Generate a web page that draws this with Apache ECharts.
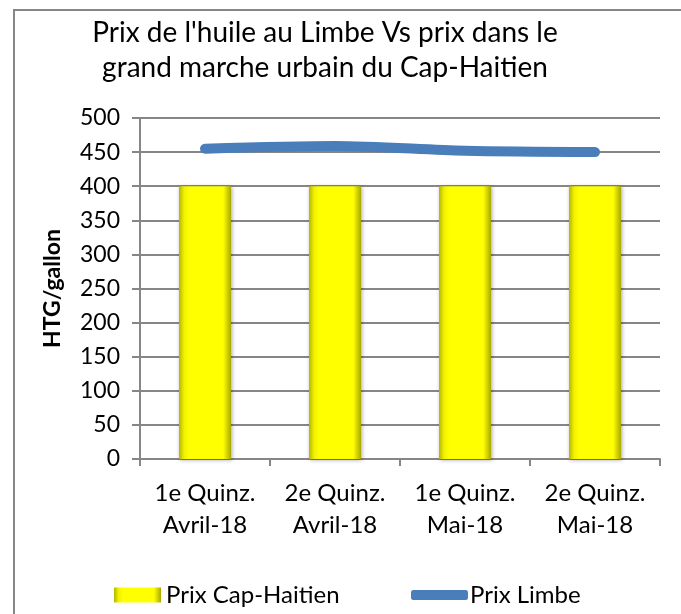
<!DOCTYPE html>
<html>
<head>
<meta charset="utf-8">
<script src="https://cdn.jsdelivr.net/npm/echarts@6/dist/echarts.min.js"></script>
<style>
html,body{margin:0;padding:0;background:#fff;}
#chart{width:681px;height:614px;}
</style>
</head>
<body>
<div id="chart"></div>
<script>
var categories = ['1e Quinz.\nAvril-18', '2e Quinz.\nAvril-18', '1e Quinz.\nMai-18', '2e Quinz.\nMai-18'];
var prixCap = [400, 400, 400, 400];
var prixLimbe = [455, 459, 452, 450];
var yTicks = [0, 50, 100, 150, 200, 250, 300, 350, 400, 450, 500];

var font = 'Lato';
var chart = echarts.init(document.getElementById('chart'));

var option = {
	backgroundColor: '#fff',
	animation: false,
	textStyle: { fontFamily: font },
	title: {
		text: "Prix de l'huile au Limbe Vs prix dans le\ngrand marche urbain du Cap-Haitien",
		left: 320,
		textAlign: 'center',
		top: 10,
		textStyle: { fontFamily: font, fontSize: 28, fontWeight: 'normal', color: '#000', lineHeight: 35 }
	},
	graphic: [{
		type: 'rect',
		shape: { x: 14, y: 10, width: 700, height: 640 },
		style: { fill: 'none', stroke: '#868686', lineWidth: 2 },
		silent: true
	}],
	legend: [{
		data: ['Prix Cap-Haitien'],
		left: 109,
		top: 578,
		icon: 'rect',
		itemWidth: 47,
		itemHeight: 15,
		textStyle: { fontFamily: font, fontSize: 24, color: '#000' }
	}, {
		data: ['Prix Limbe'],
		left: 406,
		top: 578,
		icon: 'roundRect',
		itemWidth: 57,
		itemHeight: 10,
		textStyle: { fontFamily: font, fontSize: 24, color: '#000', padding: [0, 0, 0, -3] }
	}],
	grid: { left: 140, right: 21, top: 118, bottom: 155, containLabel: false },
	xAxis: {
		type: 'category',
		data: categories,
		boundaryGap: true,
		axisLine: { lineStyle: { color: '#868686', width: 2 } },
		axisTick: { show: true, length: 7, lineStyle: { color: '#868686', width: 2 } },
		axisLabel: { fontFamily: font, fontSize: 24, color: '#000', lineHeight: 32, margin: 18, interval: 0 }
	},
	yAxis: {
		type: 'value',
		min: yTicks[0],
		max: yTicks[yTicks.length - 1],
		interval: 50,
		name: 'HTG/gallon',
		nameLocation: 'middle',
		nameGap: 76,
		nameTextStyle: { fontFamily: font, fontSize: 23, fontWeight: 'bold', color: '#000' },
		axisLine: { show: true, lineStyle: { color: '#868686', width: 2 } },
		axisTick: { show: true, length: 8, lineStyle: { color: '#868686', width: 2 } },
		axisLabel: { fontFamily: font, fontSize: 23, color: '#000', margin: 20 },
		splitLine: { lineStyle: { color: '#868686', width: 2 } }
	},
	series: [{
		name: 'Prix Cap-Haitien',
		type: 'bar',
		data: prixCap,
		barWidth: '40%',
		itemStyle: {
			color: new echarts.graphic.LinearGradient(0, 0, 1, 0, [
				{ offset: 0, color: '#b5b500' },
				{ offset: 0.1, color: '#f2f200' },
				{ offset: 0.2, color: '#ffff00' },
				{ offset: 0.85, color: '#ffff00' },
				{ offset: 1, color: '#a8a800' }
			]),
			shadowColor: 'rgba(0,0,0,0.35)',
			shadowBlur: 4,
			shadowOffsetX: 1,
			shadowOffsetY: 1
		}
	}, {
		name: 'Prix Limbe',
		type: 'line',
		data: prixLimbe,
		smooth: 0.3,
		showSymbol: false,
		symbol: 'none',
		z: 5,
		color: '#4a7ebb',
		lineStyle: { color: '#4a7ebb', width: 10, cap: 'round', join: 'round' }
	}]
};

chart.setOption(option);
window.onresize = chart.resize;
</script>
</body>
</html>
